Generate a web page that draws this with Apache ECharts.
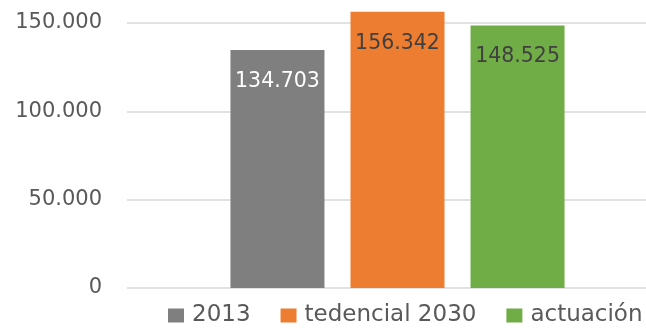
<!DOCTYPE html>
<html>
<head>
<meta charset="utf-8">
<script src="https://cdn.jsdelivr.net/npm/echarts@6/dist/echarts.min.js"></script>
<style>
  html, body { margin: 0; padding: 0; background: #fff; }
  #chart { width: 646px; height: 329px; }
</style>
</head>
<body>
<div id="chart"></div>
<script>
const categories = ['total'];
const yTicks = [0, 50000, 100000, 150000];
const seriesNames = ['2013', 'tedencial 2030', 'actuación'];
const seriesValues = [[134703], [156342], [148525]];
const seriesColors = ['#7f7f7f', '#ed7d31', '#70ad47'];
const labelColors = ['#ffffff', '#404040', '#404040'];

// formato español: punto como separador de miles
const fmt = v => String(Math.round(v)).replace(/\B(?=(\d{3})+(?!\d))/g, '.');

const chart = echarts.init(document.getElementById('chart'));

const yMin = yTicks[0];
const yMax = yTicks[yTicks.length - 1];
const yStep = yTicks[1] - yTicks[0];

const option = {
  animation: false,
  textStyle: { fontFamily: 'DejaVu Sans' },
  legend: {
    data: seriesNames,
    top: 304,
    left: 168,
    padding: 0,
    icon: 'rect',
    itemWidth: 16,
    itemHeight: 14,
    itemGap: 30,
    textStyle: {
      fontSize: 23,
      color: '#595959',
      fontFamily: 'DejaVu Sans',
      padding: [0, 0, 0, 3],
    },
  },
  // grid 0: ejes y líneas de división, grid 1: barras (desplazadas como en el original)
  grid: [
    { left: 127, top: 23, right: 0, bottom: 41 },
    { left: 149, top: 23, right: 0, bottom: 41 },
  ],
  xAxis: [
    { type: 'category', gridIndex: 0, data: categories, show: false },
    { type: 'category', gridIndex: 1, data: categories, show: false },
  ],
  yAxis: [
    {
      type: 'value',
      gridIndex: 0,
      min: yMin,
      max: yMax,
      interval: yStep,
      axisLine: { show: false },
      axisTick: { show: false },
      axisLabel: {
        formatter: fmt,
        fontSize: 21,
        color: '#595959',
        margin: 25,
      },
      splitLine: { lineStyle: { color: '#d9d9d9', width: 1.5 } },
    },
    {
      type: 'value',
      gridIndex: 1,
      min: yMin,
      max: yMax,
      interval: yStep,
      show: false,
      splitLine: { show: false },
    },
  ],
  series: seriesNames.map((name, i) => ({
    name,
    type: 'bar',
    xAxisIndex: 1,
    yAxisIndex: 1,
    data: seriesValues[i],
    barWidth: 94,
    barGap: '27.7%',
    clip: false,
    itemStyle: { color: seriesColors[i] },
    label: {
      show: true,
      position: 'insideTop',
      distance: 21,
      formatter: p => fmt(p.value),
      fontSize: 20.5,
      color: labelColors[i],
      fontFamily: 'DejaVu Sans',
    },
  })),
};

chart.setOption(option);
</script>
</body>
</html>
